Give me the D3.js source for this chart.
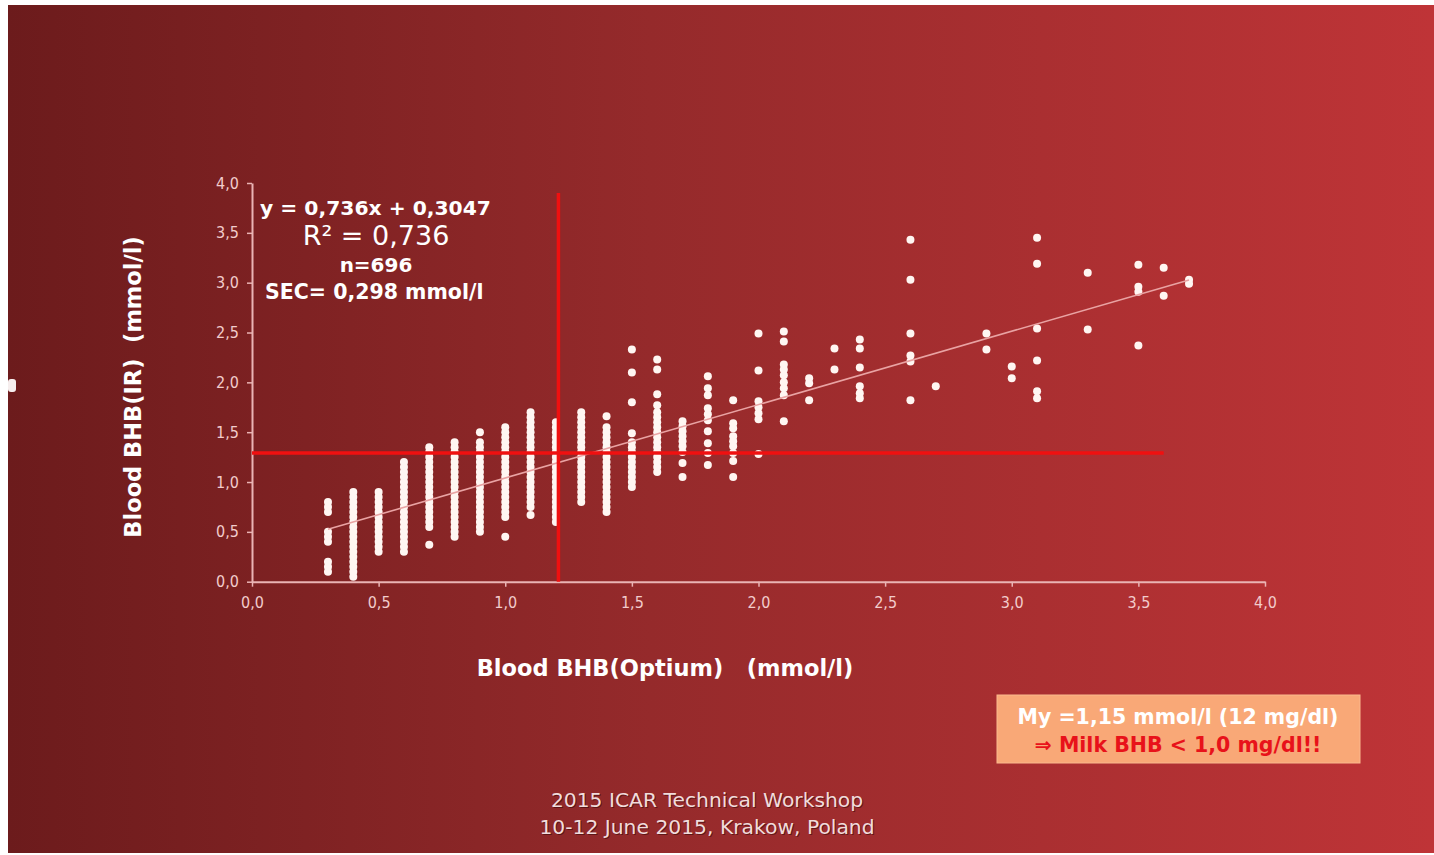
<!DOCTYPE html>
<html>
<head>
<meta charset="utf-8">
<script src="https://cdn.jsdelivr.net/npm/d3@7"></script>
<style>
  body { margin: 0; background: #ffffff; }
  svg text { font-family: "DejaVu Sans", sans-serif; white-space: pre; }
</style>
</head>
<body>
<svg id="chart" width="1434" height="855"></svg>
<script>
// x positions of the measurement columns (Optium)
var col_x = [0.3, 0.4, 0.5, 0.6, 0.7, 0.8, 0.9, 1.0, 1.1, 1.2, 1.3, 1.4, 1.5, 1.6, 1.7, 1.8, 1.9,
             2.0, 2.1, 2.2, 2.3, 2.4, 2.6, 2.7, 2.9, 3.0, 3.1, 3.3, 3.5, 3.6, 3.7];

// IR readings per column
var col_y = [
  [0.1, 0.15, 0.2, 0.4, 0.45, 0.5, 0.7, 0.75, 0.8],
  [0.05, 0.1, 0.15, 0.2, 0.25, 0.3, 0.35, 0.4, 0.45, 0.5, 0.55, 0.6, 0.65, 0.7, 0.75, 0.8, 0.85, 0.9],
  [0.3, 0.35, 0.4, 0.45, 0.5, 0.55, 0.6, 0.65, 0.7, 0.75, 0.8, 0.85, 0.9],
  [0.3, 0.35, 0.4, 0.45, 0.5, 0.55, 0.6, 0.65, 0.7, 0.75, 0.8, 0.85, 0.9, 0.95, 1.0, 1.05, 1.1, 1.15, 1.2],
  [0.37, 0.55, 0.6, 0.65, 0.7, 0.75, 0.8, 0.85, 0.9, 0.95, 1.0, 1.05, 1.1, 1.15, 1.2, 1.25, 1.3, 1.35],
  [0.45, 0.5, 0.55, 0.6, 0.65, 0.7, 0.75, 0.8, 0.85, 0.9, 0.95, 1.0, 1.05, 1.1, 1.15, 1.2, 1.25, 1.3, 1.35, 1.4],
  [0.5, 0.55, 0.6, 0.65, 0.7, 0.75, 0.8, 0.85, 0.9, 0.95, 1.0, 1.05, 1.1, 1.15, 1.2, 1.25, 1.3, 1.35, 1.4, 1.5],
  [0.45, 0.65, 0.7, 0.75, 0.8, 0.85, 0.9, 0.95, 1.0, 1.05, 1.1, 1.15, 1.2, 1.25, 1.3, 1.35, 1.4, 1.45, 1.5, 1.55],
  [0.67, 0.75, 0.8, 0.85, 0.9, 0.95, 1.0, 1.05, 1.1, 1.15, 1.2, 1.25, 1.3, 1.35, 1.4, 1.45, 1.5, 1.55, 1.6, 1.65, 1.7],
  [0.6, 0.65, 0.7, 0.75, 0.8, 0.85, 0.9, 0.95, 1.0, 1.05, 1.1, 1.15, 1.2, 1.25, 1.3, 1.35, 1.4, 1.45, 1.5, 1.55, 1.6],
  [0.8, 0.85, 0.9, 0.95, 1.0, 1.05, 1.1, 1.15, 1.2, 1.25, 1.3, 1.35, 1.4, 1.45, 1.5, 1.55, 1.6, 1.65, 1.7],
  [0.7, 0.75, 0.8, 0.85, 0.9, 0.95, 1.0, 1.05, 1.1, 1.15, 1.2, 1.25, 1.3, 1.35, 1.4, 1.45, 1.5, 1.55, 1.66],
  [0.95, 1.0, 1.05, 1.1, 1.15, 1.2, 1.25, 1.3, 1.35, 1.4, 1.49, 1.8, 2.1, 2.33],
  [1.1, 1.15, 1.2, 1.25, 1.3, 1.35, 1.4, 1.45, 1.5, 1.55, 1.6, 1.65, 1.7, 1.77, 1.88, 2.13, 2.23],
  [1.05, 1.19, 1.3, 1.36, 1.41, 1.46, 1.51, 1.56, 1.61],
  [1.17, 1.29, 1.39, 1.51, 1.62, 1.68, 1.74, 1.87, 1.94, 2.06],
  [1.05, 1.21, 1.29, 1.36, 1.41, 1.46, 1.54, 1.59, 1.82],
  [1.28, 1.63, 1.69, 1.75, 1.81, 2.12, 2.49],
  [1.61, 1.87, 1.94, 2.0, 2.07, 2.13, 2.18, 2.41, 2.51],
  [1.82, 1.99, 2.04],
  [2.13, 2.34],
  [1.84, 1.89, 1.96, 2.15, 2.34, 2.43],
  [1.82, 2.21, 2.27, 2.49, 3.03, 3.43],
  [1.96],
  [2.33, 2.49],
  [2.04, 2.16],
  [1.84, 1.91, 2.22, 2.54, 3.19, 3.45],
  [2.53, 3.1],
  [2.37, 2.91, 2.96, 3.18],
  [2.87, 3.15],
  [2.99, 3.03]
];

var ticks = [0, 0.5, 1.0, 1.5, 2.0, 2.5, 3.0, 3.5, 4.0];
var fit = {slope: 0.736, intercept: 0.3047, x0: 0.3, x1: 3.7};
var cut_x = 1.21, cut_y = 1.29;   // red threshold cross
var stats_lines = ["y = 0,736x + 0,3047", "R\u00b2 = 0,736", "n=696", "SEC= 0,298 mmol/l"];
var note_lines = ["My =1,15 mmol/l (12 mg/dl)", "\u21d2 Milk BHB < 1,0 mg/dl!!"];
var footer_lines = ["2015 ICAR Technical Workshop", "10-12 June 2015, Krakow, Poland"];

var svg = d3.select("#chart");

/* background */
var defs = svg.append("defs");
var grad = defs.append("linearGradient").attr("id", "bg").attr("x1", "0").attr("x2", "1").attr("y1", "0").attr("y2", "0");
grad.append("stop").attr("offset", "0%").attr("stop-color", "#6c1b1c");
grad.append("stop").attr("offset", "45%").attr("stop-color", "#952a2b");
grad.append("stop").attr("offset", "100%").attr("stop-color", "#bf3437");

svg.append("rect").attr("x", 8).attr("y", 5).attr("width", 1426).attr("height", 848).attr("fill", "url(#bg)");
svg.append("rect").attr("x", 8).attr("y", 379).attr("width", 8).attr("height", 13).attr("rx", 3).attr("fill", "#f6eeee");

/* scales + axes */
var x = d3.scaleLinear().domain([0, 4]).range([252, 1265]);
var y = d3.scaleLinear().domain([0, 4]).range([581.7, 183]);
var fmt = function(d) { return d3.format(".1f")(d).replace(".", ","); };
var axis_col = "#eab4b4";

var gx = svg.append("g").attr("transform", "translate(0," + y(0) + ")")
  .call(d3.axisBottom(x).tickValues(ticks).tickFormat(fmt).tickSize(5).tickSizeOuter(0));
var gy = svg.append("g").attr("transform", "translate(" + x(0) + ",0)")
  .call(d3.axisLeft(y).tickValues(ticks).tickFormat(fmt).tickSize(5).tickSizeOuter(0));

[gx, gy].forEach(function(g) {
  g.select(".domain").attr("stroke", axis_col).attr("stroke-width", 2);
  g.selectAll(".tick line").attr("stroke", axis_col).attr("stroke-width", 1.5);
  g.selectAll(".tick text").attr("fill", "#f2cccc").style("font-size", "16px")
    .style("font-family", "'DejaVu Sans Condensed', 'DejaVu Sans', sans-serif");
});
gx.selectAll(".tick text").attr("y", 12).attr("dy", "0.9em");
gy.selectAll(".tick text").attr("x", -13);

/* points */
var points = [];
col_x.forEach(function(cx, i) {
  col_y[i].forEach(function(cy) { points.push([cx, cy]); });
});

svg.append("g").selectAll("circle")
  .data(points).enter().append("circle")
  .attr("cx", function(d) { return x(d[0]); })
  .attr("cy", function(d) { return y(d[1]); })
  .attr("r", 4)
  .attr("fill", "#fff6f2");

/* trend line */
svg.append("line")
  .attr("x1", x(fit.x0)).attr("y1", y(fit.slope * fit.x0 + fit.intercept))
  .attr("x2", x(fit.x1)).attr("y2", y(fit.slope * fit.x1 + fit.intercept))
  .attr("stroke", "#e9a3a3").attr("stroke-width", 1.6);

/* red threshold lines */
svg.append("line")
  .attr("x1", x(0)).attr("x2", x(3.6)).attr("y1", y(cut_y)).attr("y2", y(cut_y))
  .attr("stroke", "#f01010").attr("stroke-width", 3.5);
svg.append("line")
  .attr("x1", x(cut_x)).attr("x2", x(cut_x)).attr("y1", y(0)).attr("y2", y(3.9))
  .attr("stroke", "#f01010").attr("stroke-width", 3.5);

/* stats text */
var stats = svg.append("g").attr("fill", "#ffffff");
stats.append("text").attr("x", 260).attr("y", 215).style("font-size", "20.3px").style("font-weight", "bold").text(stats_lines[0]);
stats.append("text").attr("x", 376).attr("y", 245).attr("text-anchor", "middle").style("font-size", "27px").text(stats_lines[1]);
stats.append("text").attr("x", 376).attr("y", 272).attr("text-anchor", "middle").style("font-size", "20px").style("font-weight", "bold").text(stats_lines[2]);
stats.append("text").attr("x", 265).attr("y", 299).style("font-size", "20.5px").style("font-weight", "bold").text(stats_lines[3]);

/* axis titles */
svg.append("text").attr("x", 665).attr("y", 676).attr("text-anchor", "middle")
  .attr("fill", "#ffffff").style("font-size", "22.5px").style("font-weight", "bold")
  .text("Blood BHB(Optium)   (mmol/l)");
svg.append("text").attr("transform", "translate(141,387) rotate(-90)").attr("text-anchor", "middle")
  .attr("fill", "#ffffff").style("font-size", "22.5px").style("font-weight", "bold")
  .text("Blood BHB(IR)  (mmol/l)");

/* note box */
svg.append("rect").attr("x", 997).attr("y", 695).attr("width", 363).attr("height", 68)
  .attr("fill", "#f9a877").attr("stroke", "#fbb98e").attr("stroke-width", 1);
svg.append("text").attr("x", 1178).attr("y", 724).attr("text-anchor", "middle")
  .attr("fill", "#ffffff").style("font-size", "20.5px").style("font-weight", "bold").text(note_lines[0]);
svg.append("text").attr("x", 1178).attr("y", 752).attr("text-anchor", "middle")
  .attr("fill", "#e8121a").style("font-size", "20.5px").style("font-weight", "bold").text(note_lines[1]);

/* footer */
footer_lines.forEach(function(t, i) {
  svg.append("text").attr("x", 708).attr("y", 808 + i * 27).attr("text-anchor", "middle")
    .attr("fill", "#3a0a0a").attr("opacity", 0.6).style("font-size", "20.3px").text(t);
  svg.append("text").attr("x", 707).attr("y", 807 + i * 27).attr("text-anchor", "middle")
    .attr("fill", "#f1dcdc").style("font-size", "20.3px").text(t);
});
</script>
</body>
</html>
